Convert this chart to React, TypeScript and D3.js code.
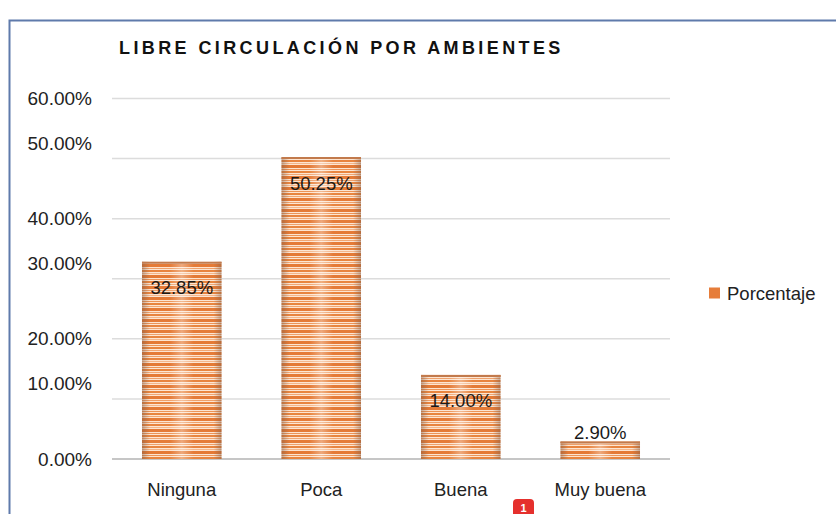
import React from 'react';
import * as d3 from 'd3';

// Chart data
const categories = ['Ninguna', 'Poca', 'Buena', 'Muy buena'];
const porcentaje = [32.85, 50.25, 14.0, 2.9];
const yTicks = [0, 10, 20, 30, 40, 50, 60];
const title = 'LIBRE CIRCULACIÓN POR AMBIENTES';
const seriesName = 'Porcentaje';

const W = 836;
const H = 514;
const FONT = '"Liberation Sans", Arial, Helvetica, sans-serif';

// stripe rows for the bar fill: [y, height, colour]
const stripes: [number, number, string][] = [
  [0, 3, '#e57b37'],
  [4, 1, '#efa06a'],
  [6, 2, '#e8843f'],
  [9, 1, '#f4b68b'],
  [11, 3, '#e47a36'],
  [15, 1, '#ec9458'],
  [17, 2, '#e8853f'],
  [20, 1, '#f1a774'],
];

const App = () => {
  const x = d3
    .scaleBand()
    .domain(categories)
    .range([112, 670])
    .paddingInner(0.43)
    .paddingOuter(0.215);

  const y = d3.scaleLinear().domain([0, 60]).range([459, 98.5]);

  // the original puts every other tick label a bit above its gridline
  const labelShift = (v: number) => ((v / 10) % 2 === 1 ? -15 : 0);

  return (
    <svg
      width={W}
      height={H}
      style={{ position: 'absolute', left: 0, top: 0, background: '#fff' }}
      fontFamily={FONT}
    >
      <defs>
        <pattern id="stripes" patternUnits="userSpaceOnUse" width={10} height={22}>
          <rect width={10} height={22} fill="#fde5d1" />
          {stripes.map(([sy, sh, c], i) => (
            <rect key={i} x={0} y={sy} width={10} height={sh} fill={c} />
          ))}
        </pattern>
        <linearGradient id="edge" x1="0" x2="1" y1="0" y2="0">
          <stop offset="0" stopColor="#7a5a48" stopOpacity={0.45} />
          <stop offset="0.1" stopColor="#7a5a48" stopOpacity={0} />
          <stop offset="0.35" stopColor="#fff" stopOpacity={0} />
          <stop offset="0.5" stopColor="#fff" stopOpacity={0.35} />
          <stop offset="0.65" stopColor="#fff" stopOpacity={0} />
          <stop offset="0.9" stopColor="#7a5a48" stopOpacity={0} />
          <stop offset="1" stopColor="#7a5a48" stopOpacity={0.45} />
        </linearGradient>
      </defs>

      {/* frame */}
      <path d={`M9.5,${H} V20.5 H${W}`} fill="none" stroke="#5f7aab" strokeWidth={2} />

      {/* title */}
      <text
        x={119}
        y={48}
        fontSize={18}
        fontWeight="bold"
        letterSpacing={3.4}
        dominantBaseline="central"
        fill="#111"
      >
        {title}
      </text>

      {/* gridlines */}
      {yTicks.map((v) => (
        <line
          key={v}
          x1={112}
          x2={670}
          y1={y(v)}
          y2={y(v)}
          stroke={v === 0 ? '#c6c6c6' : '#dcdcdc'}
          strokeWidth={v === 0 ? 2 : 1.5}
        />
      ))}

      {/* y tick labels */}
      {yTicks.map((v) => (
        <text
          key={v}
          x={92}
          y={y(v) + labelShift(v)}
          textAnchor="end"
          dominantBaseline="central"
          fontSize={19}
          fill="#222"
        >
          {v.toFixed(2)}%
        </text>
      ))}

      {/* bars */}
      {porcentaje.map((v, i) => {
        const bx = x(categories[i]) as number;
        const by = y(v);
        const bh = y(0) - by;
        return (
          <g key={categories[i]}>
            <rect x={bx} y={by} width={x.bandwidth()} height={bh} fill="url(#stripes)" />
            <rect x={bx} y={by} width={x.bandwidth()} height={bh} fill="url(#edge)" />
            <line x1={bx} x2={bx + x.bandwidth()} y1={by + 1} y2={by + 1} stroke="#c27a4c" strokeWidth={2} />
          </g>
        );
      })}

      {/* data labels */}
      {porcentaje.map((v, i) => {
        const cx = (x(categories[i]) as number) + x.bandwidth() / 2;
        const inside = y(0) - y(v) > 40;
        return (
          <text
            key={categories[i]}
            x={cx}
            y={inside ? y(v) + 26 : y(v) - 9}
            textAnchor="middle"
            dominantBaseline="central"
            fontSize={18.5}
            fill="#1a1a1a"
          >
            {v.toFixed(2)}%
          </text>
        );
      })}

      {/* category labels */}
      {categories.map((c) => (
        <text
          key={c}
          x={(x(c) as number) + x.bandwidth() / 2}
          y={489}
          textAnchor="middle"
          dominantBaseline="central"
          fontSize={18.5}
          fill="#222"
        >
          {c}
        </text>
      ))}

      {/* legend */}
      <rect x={709} y={287.5} width={11} height={11} fill="#e67d3a" />
      <text x={727} y={293} dominantBaseline="central" fontSize={18.5} fill="#222">
        {seriesName}
      </text>

      {/* little red badge at the bottom edge */}
      <rect x={513} y={499} width={21} height={24} rx={4} fill="#e5302d" />
      <text x={523.5} y={512} textAnchor="middle" fontSize={11} fontWeight="bold" fill="#fff">
        1
      </text>
    </svg>
  );
};

export default App;
